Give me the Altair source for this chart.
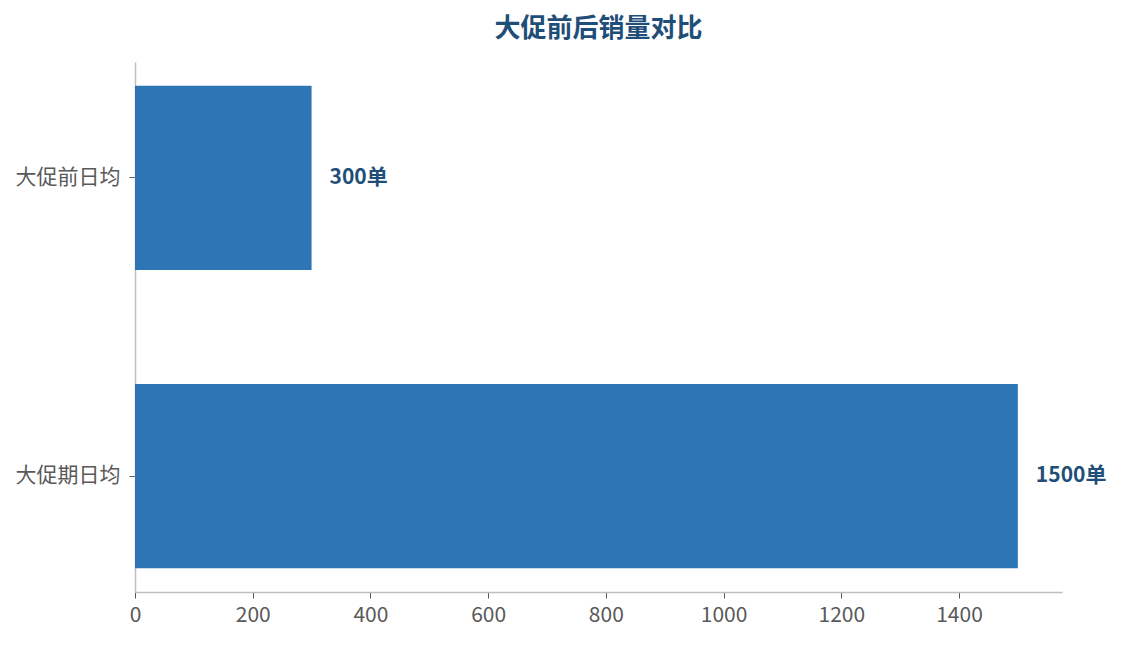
import altair as alt
import pandas as pd

categories = ["大促前日均", "大促期日均"]
values = [300, 1500]
labels = ["300单", "1500单"]

df = pd.DataFrame({"cat": categories, "val": values, "label": labels})

FONT = "Noto Sans CJK SC"

y_enc = alt.Y("cat:N", sort=categories, title=None,
              scale=alt.Scale(paddingInner=0.383, paddingOuter=0.08),
              axis=alt.Axis(labelFontSize=21, labelColor="#595959", labelFont=FONT,
                            domainColor="#bfbfbf", domainWidth=1.5, tickColor="#595959",
                            tickSize=6, labelPadding=9))
x_enc = alt.X("val:Q", title=None,
              scale=alt.Scale(domain=[0, 1575], nice=False),
              axis=alt.Axis(values=[0, 200, 400, 600, 800, 1000, 1200, 1400], format="d",
                            labelFontSize=21, labelColor="#595959", labelFont=FONT,
                            labelFlush=False,
                            domainColor="#bfbfbf", domainWidth=1.5, tickColor="#595959",
                            tickSize=6, grid=False, labelPadding=6))

bars = alt.Chart(df).mark_bar(color="#2e75b6").encode(x=x_enc, y=y_enc)
text = alt.Chart(df).mark_text(align="left", baseline="middle", dx=18, fontSize=21,
                               fontWeight="bold", color="#1f4e79", font=FONT).encode(
    x=alt.X("val:Q"), y=alt.Y("cat:N", sort=categories), text="label:N")

chart = (bars + text).properties(
    width=927, height=530,
    title=alt.TitleParams("大促前后销量对比", fontSize=26, fontWeight="bold",
                          color="#1f4e79", font=FONT, anchor="middle", offset=20),
    padding={"left": 127, "top": 54, "right": 50, "bottom": 40},
    autosize=alt.AutoSizeParams(type="none"),
).configure_view(stroke=None)

chart.save("out.html", embed_options={"renderer": "svg", "actions": False})
